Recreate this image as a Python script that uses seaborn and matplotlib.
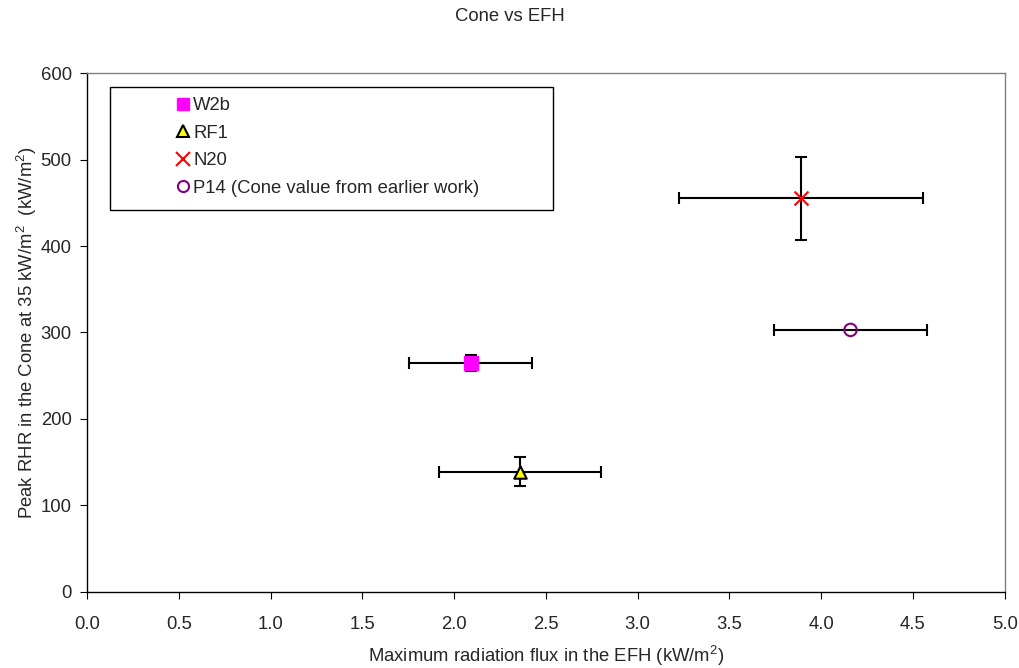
import matplotlib
matplotlib.use("Agg")
import matplotlib.pyplot as plt
import seaborn as sns
import pandas as pd
from matplotlib.lines import Line2D
from matplotlib.patches import Rectangle

labels = ["W2b", "RF1", "N20", "P14 (Cone value from earlier work)"]
x_vals = [2.09, 2.36, 3.89, 4.16]
y_vals = [265, 139, 455, 303]
x_err = [0.335, 0.44, 0.667, 0.417]
y_err = [9, 16.5, 47.5, 0]
x_ticks = [0.0, 0.5, 1.0, 1.5, 2.0, 2.5, 3.0, 3.5, 4.0, 4.5, 5.0]
y_ticks = [0, 100, 200, 300, 400, 500, 600]

sns.set_style("white")
plt.rcParams['font.family'] = ['Liberation Sans', 'DejaVu Sans']
plt.rcParams['mathtext.fontset'] = 'custom'
plt.rcParams['mathtext.rm'] = 'Liberation Sans'

FS = 13.3
df = pd.DataFrame({"label": labels, "x": x_vals, "y": y_vals})

fig = plt.figure(figsize=(10.2, 6.68), dpi=100)
ax = fig.add_axes([0.0853, 0.1138, 0.8997, 0.7769])

for xi, yi, xe, ye in zip(x_vals, y_vals, x_err, y_err):
    ax.errorbar(xi, yi, xerr=xe, yerr=ye if ye > 0 else None, fmt='none',
                ecolor='black', elinewidth=1.5, capsize=4, capthick=1.5, zorder=2)

styles = {
    "W2b": dict(marker='s', facecolor='#FF00FF', edgecolor='#FF00FF', s=110, lw=1),
    "RF1": dict(marker='^', facecolor='#FFFF00', edgecolor='black', s=80, lw=1.5),
    "N20": dict(marker='x', facecolor='#FF0000', edgecolor='#FF0000', s=100, lw=1.5),
    "P14 (Cone value from earlier work)": dict(marker='o', facecolor='none', edgecolor='#800080', s=80, lw=1.5),
}
for lab in labels:
    st = styles[lab]
    sub = df[df.label == lab]
    if st['marker'] == 'x':
        sns.scatterplot(data=sub, x='x', y='y', ax=ax, marker='x', color=st['facecolor'],
                        s=st['s'], linewidth=st['lw'], zorder=3, legend=False)
    else:
        sns.scatterplot(data=sub, x='x', y='y', ax=ax, marker=st['marker'],
                        facecolor=st['facecolor'], edgecolor=st['edgecolor'],
                        s=st['s'], linewidth=st['lw'], zorder=3, legend=False)

ax.set_xlim(0, 5)
ax.set_ylim(0, 600)
ax.set_xticks(x_ticks)
ax.set_xticklabels([f"{t:.1f}" for t in x_ticks])
ax.set_yticks(y_ticks)
ax.tick_params(axis='both', labelsize=FS, length=5, direction='out', bottom=True, left=True,
               color='black')
ax.tick_params(axis='x', pad=12)
ax.tick_params(axis='y', pad=6)
for sp in ax.spines.values():
    sp.set_color('#808080')
    sp.set_linewidth(1)
ax.spines['left'].set_color('black')
ax.spines['bottom'].set_color('black')

ax.set_xlabel("Maximum radiation flux in the EFH (kW/m$^{2}$)", fontsize=FS, labelpad=8)
ax.set_ylabel("Peak RHR in the Cone at 35 kW/m$^{2}$  (kW/m$^{2}$)", fontsize=FS, labelpad=1.5)
fig.suptitle("Cone vs EFH", fontsize=FS, y=0.988)

# legend frame (Excel-style wide box)
ax.add_patch(Rectangle((0.025, 0.736), 0.4826, 0.237, transform=ax.transAxes,
                       facecolor='white', edgecolor='black', lw=1, zorder=4))

handles = [
    Line2D([], [], ls='none', marker='s', markerfacecolor='#FF00FF', markeredgecolor='#FF00FF', markersize=9),
    Line2D([], [], ls='none', marker='^', markerfacecolor='#FFFF00', markeredgecolor='black', markersize=8, markeredgewidth=1.5),
    Line2D([], [], ls='none', marker='x', color='#FF0000', markersize=10, markeredgewidth=1.5),
    Line2D([], [], ls='none', marker='o', markerfacecolor='none', markeredgecolor='#800080', markersize=8, markeredgewidth=1.5),
]
leg = ax.legend(handles, labels, loc='upper left', bbox_to_anchor=(0.0964, 0.9537),
                fontsize=FS, frameon=False, handlelength=0.8, handletextpad=0.15,
                labelspacing=0.57, borderpad=0, borderaxespad=0)
leg.set_zorder(5)

fig.savefig("out.png", dpi=100)
